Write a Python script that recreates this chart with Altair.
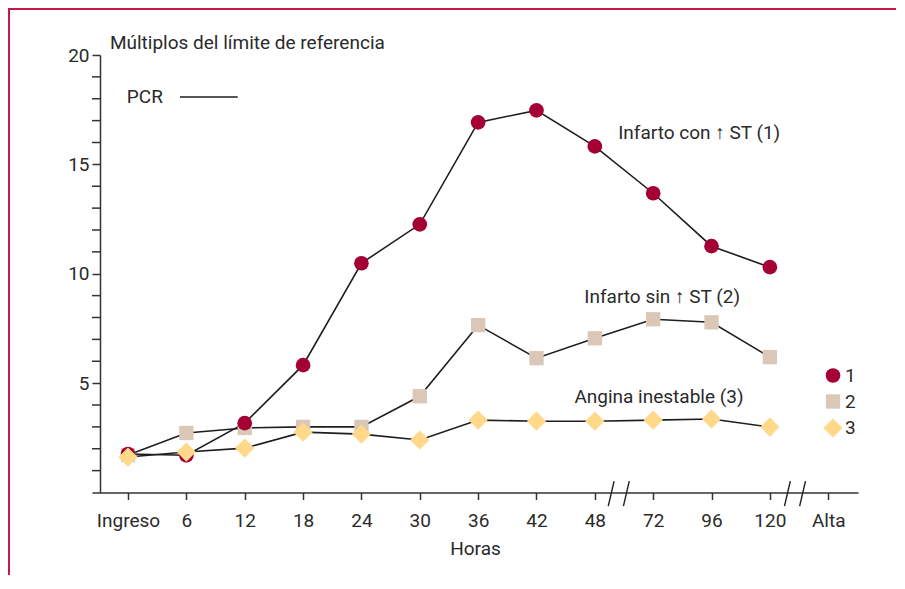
import altair as alt
import pandas as pd

categories = ["Ingreso", "6", "12", "18", "24", "30", "36", "42", "48", "72", "96", "120", "Alta"]
serie_1 = [1.76, 1.70, 3.17, 5.82, 10.48, 12.26, 16.92, 17.47, 15.82, 13.68, 11.26, 10.30]
serie_2 = [1.71, 2.72, 2.95, 3.00, 3.00, 4.40, 7.65, 6.14, 7.05, 7.92, 7.78, 6.19]
serie_3 = [1.62, 1.85, 2.03, 2.76, 2.67, 2.40, 3.31, 3.26, 3.26, 3.31, 3.36, 2.99]
series_names = ["1", "2", "3"]
annotations = ["Infarto con \u2191 ST (1)", "Infarto sin \u2191 ST (2)", "Angina inestable (3)"]

FONT = "Roboto"
FS = 19
TXT = "#2a2a2a"
AX = "#333333"

rows = []
for name, vals in zip(series_names, [serie_1, serie_2, serie_3]):
    for i, v in enumerate(vals):
        rows.append({"idx": i, "valor": v, "serie": name})
df = pd.DataFrame(rows)

xdom = [-0.617, 12.51]
label_expr = "[" + ",".join("'" + c + "'" for c in categories) + "][datum.value]"

xenc = alt.X("idx:Q", scale=alt.Scale(domain=xdom, nice=False, zero=False),
             axis=alt.Axis(values=list(range(len(categories))), labelExpr=label_expr,
                           title="Horas", grid=False, tickSize=7, tickColor=AX, tickWidth=1.5,
                           domainColor=AX, domainWidth=1.5, labelFontSize=FS, labelFont=FONT,
                           labelColor=TXT, labelPadding=12, titleFont=FONT, titleFontSize=FS,
                           titleFontWeight="normal", titleColor=TXT, titlePadding=9,
                           labelFlush=False, labelOverlap=False))
yenc = alt.Y("valor:Q", scale=alt.Scale(domain=[0, 20], nice=False),
             axis=alt.Axis(values=[5, 10, 15, 20], offset=-8, grid=False, title=None,
                           tickSize=8, tickColor=AX, tickWidth=1.5, domainColor=AX, domainWidth=1.5,
                           labelFontSize=FS, labelFont=FONT, labelColor=TXT, labelPadding=3,
                           labelOverlap=False))

base = alt.Chart(df)
lines = base.mark_line(color="#1e1e1e", strokeWidth=1.6).encode(x=xenc, y=yenc, detail="serie:N")

# minor ticks of the y axis (every unit)
minor_df = pd.DataFrame({"v": [v for v in range(1, 20) if v % 5 != 0]})
minor = alt.Chart(minor_df).mark_rule(color=AX, strokeWidth=1.5).encode(
    y="v:Q", x=alt.value(0), x2=alt.value(8))

points = base.mark_point(filled=True, opacity=1, strokeWidth=0).encode(
    x="idx:Q", y="valor:Q",
    shape=alt.Shape("serie:N", scale=alt.Scale(domain=series_names, range=["circle", "square", "diamond"])),
    color=alt.Color("serie:N", scale=alt.Scale(domain=series_names, range=["#A50034", "#DBC7B8", "#FFD88A"])),
    size=alt.Size("serie:N", scale=alt.Scale(type="ordinal", domain=series_names, range=[215, 205, 370])),
    order=alt.Order("ord:Q"),
).transform_calculate(ord="datum.serie == '1' ? 1 : (datum.serie == '2' ? 0 : 2)")

ann_df = pd.DataFrame({"texto": annotations + ["PCR", "M\u00faltiplos del l\u00edmite de referencia"],
                       "x": [8.40, 7.82, 7.65, -0.02, -0.31],
                       "y": [16.43, 8.94, 4.37, 18.08, 20.55]})
texts = alt.Chart(ann_df).mark_text(align="left", baseline="middle", font=FONT, fontSize=FS,
                                     color=TXT).encode(x="x:Q", y="y:Q", text="texto:N")

pcr_df = pd.DataFrame({"x": [0.89], "x2": [1.88], "y": [18.08]})
pcr_line = alt.Chart(pcr_df).mark_rule(color="#1e1e1e", strokeWidth=1.4).encode(
    x="x:Q", x2="x2:Q", y="y:Q")

brk_df = pd.DataFrame({"x": [8.23, 8.49, 11.25, 11.51], "x2": [8.33, 8.59, 11.35, 11.61],
                       "y": [-0.62] * 4, "y2": [0.52] * 4})
breaks = alt.Chart(brk_df).mark_rule(color="#1e1e1e", strokeWidth=1.4).encode(
    x="x:Q", x2="x2:Q", y="y:Q", y2="y2:Q")

border_top = alt.Chart(pd.DataFrame({"a": [0]})).mark_rule(color="#C8184A", strokeWidth=2).encode(
    x=alt.value(-84), x2=alt.value(806), y=alt.value(-46))
border_left = alt.Chart(pd.DataFrame({"a": [0]})).mark_rule(color="#C8184A", strokeWidth=2).encode(
    x=alt.value(-83), y=alt.value(-47), y2=alt.value(520))

chart = alt.layer(border_top, border_left, lines, minor, breaks, pcr_line, points, texts).properties(
    width=766, height=437.5,
    autosize=alt.AutoSizeParams(type="none"),
    padding={"left": 84, "top": 47, "right": 38, "bottom": 84},
).configure_view(stroke=None).configure_legend(
    orient="none", legendX=731, legendY=311, title=None, labelFont=FONT, labelFontSize=FS,
    labelColor=TXT, padding=0, rowPadding=6, labelOffset=2, symbolStrokeWidth=0, symbolOpacity=1
)

chart.save("out.html", embed_options={"renderer": "svg", "actions": False})
